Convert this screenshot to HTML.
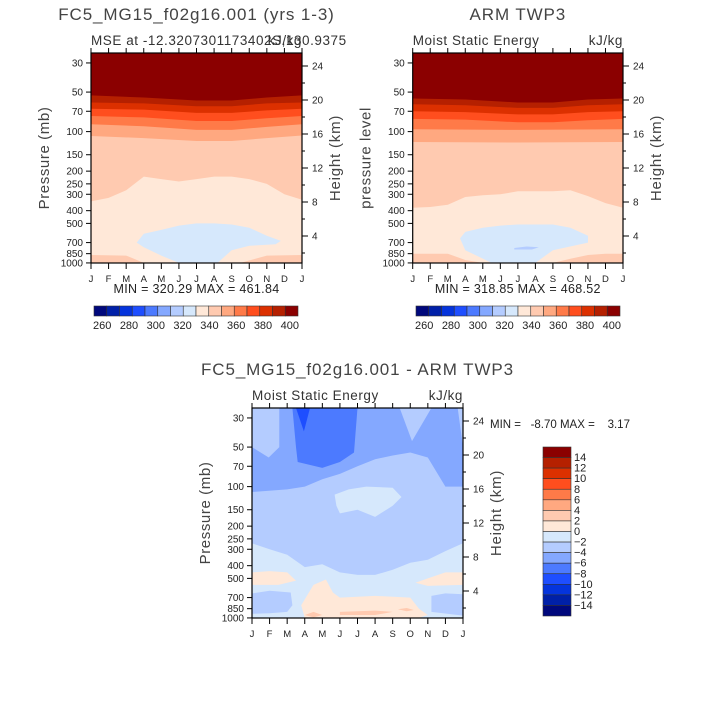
<!DOCTYPE html>
<html><head><meta charset="utf-8"><style>
html,body{margin:0;padding:0;background:#fff;width:720px;height:720px;overflow:hidden}
svg{font-family:"Liberation Sans",sans-serif}
</style></head><body>
<svg id="c" width="720" height="720" viewBox="0 0 720 720"></svg>
<script>
const months=["J","F","M","A","M","J","J","A","S","O","N","D","J"];
const pTicks=[30,50,70,100,150,200,250,300,400,500,700,850,1000];
const hTicks=[4,8,12,16,20,24];
const colors=["#00087c","#0020a8","#0534dc","#1e4eff","#4c7aff","#84a8ff","#b4ccff","#d6e8fc","#ffe8d8","#ffcab0","#ffa880","#ff7a48","#ff4e1e","#dc3000","#b52000","#8b0000"];
const absLabels=[260,280,300,320,340,360,380,400];
const diffLabels=[14,12,10,8,6,4,2,0,-2,-4,-6,-8,-10,-12,-14];
const modelBase=9;
const modelLayers=[
[10,[[0,25],[0,340],[1,320],[2,280],[3,220],[4,230],[5,240],[6,230],[7,220],[8,220],[9,230],[10,250],[11,300],[12,330],[12,25]]],
[11,[[0,25],[0,108],[3,112],[6,118],[8,118],[10,112],[12,107],[12,25]]],
[12,[[0,25],[0,88],[3,91],[6,97],[8,97],[10,92],[12,88],[12,25]]],
[13,[[0,25],[0,76],[3,78],[6,83],[8,83],[10,79],[12,76],[12,25]]],
[14,[[0,25],[0,67],[3,68],[6,72],[8,72],[10,69],[12,67],[12,25]]],
[15,[[0,25],[0,60],[3,61],[6,64],[8,64],[10,61],[12,60],[12,25]]],
[16,[[0,25],[0,53],[3,55],[6,58],[8,58],[10,55],[12,53],[12,25]]],
[10,[[0,870],[2,880],[3,1000],[0,1000]]],
[10,[[8.5,1000],[10,880],[12,870],[12,1000]]],
[8,[[2.6,700],[3,600],[4,560],[5,520],[6,500],[7,500],[8,510],[9,540],[10,620],[10.8,680],[10.5,720],[9,740],[8,800],[7.2,1000],[5,1000],[4,880],[3,760]]]
];
const obsBase=9;
const obsLayers=[
[10,[[0,25],[0,380],[1,375],[2,360],[3,315],[4,305],[5,300],[6,285],[8,285],[9,280],[10,310],[11,350],[12,380],[12,25]]],
[11,[[0,25],[0,120],[6,121],[12,120],[12,25]]],
[12,[[0,25],[0,96],[6,97],[12,96],[12,25]]],
[13,[[0,25],[0,80],[3,81],[6,85],[8,85],[10,82],[12,80],[12,25]]],
[14,[[0,25],[0,70],[3,71],[6,74],[8,74],[10,71],[12,70],[12,25]]],
[15,[[0,25],[0,62],[3,63],[6,66],[8,66],[10,63],[12,62],[12,25]]],
[16,[[0,25],[0,56],[3,57],[6,60],[8,60],[10,57],[12,56],[12,25]]],
[10,[[0,850],[2,850],[3,950],[4,1000],[0,1000]]],
[10,[[8,1000],[9,930],[10,870],[11,850],[12,850],[12,1000]]],
[8,[[2.7,650],[3,580],[4,540],[5,520],[6,510],[8,510],[9,540],[10,620],[10,700],[8,800],[7,1000],[4.5,1000],[3,800]]],
[7,[[5.8,770],[6.5,750],[7.2,760],[6.8,790],[5.8,790]]]
];
const diffBase=7;
const diffLayers=[
[6,[[0,25],[0,110],[2,105],[3,100],[4,88],[5,80],[6,70],[7,62],[8,58],[9,55],[10,60],[11,100],[12,100],[12,25]]],
[7,[[0,25],[1.55,25],[1.55,50],[0.95,60],[0,50]]],
[7,[[8.4,25],[10.2,25],[9.1,45]]],
[7,[[11.7,25],[12,25],[12,50]]],
[5,[[2.3,25],[6,25],[5.8,55],[5,65],[4,72],[2.6,65],[2.5,50]]],
[4,[[2.5,25],[3.3,25],[2.95,38]]],
[8,[[4.7,115],[5.5,105],[6.5,100],[8,102],[8.5,120],[8,140],[7,170],[6,150],[5,160],[4.8,140]]],
[8,[[0,270],[1,300],[2,330],[3,410],[4,390],[5,450],[6,470],[7,470],[8,430],[9,380],[10,360],[11,310],[12,270],[12,1000],[0,1000]]],
[7,[[0,650],[1,620],[2.2,640],[2.3,800],[2,900],[1,920],[0,930]]],
[7,[[10.2,680],[11,650],[12,660],[12,960],[10.2,900]]],
[9,[[0,450],[1,440],[2,450],[2.5,520],[1.5,560],[0,560]]],
[9,[[9.3,540],[10,500],[11,450],[12,450],[12,560],[10,570]]],
[9,[[3,1000],[2.8,800],[3.5,560],[4.2,510],[4.6,640],[5,700],[7,680],[9,700],[9.5,850],[10,950],[9.5,1000]]],
[10,[[3,950],[3.5,900],[4,950],[3.5,990]]],
[10,[[5,900],[7,880],[8,900],[7,950],[5,950]]],
[10,[[8.3,860],[8.8,840],[9.2,870],[8.8,890]]]
];

const NS="http://www.w3.org/2000/svg";
const svg=document.getElementById('c');
function el(tag,attrs,parent,text){const e=document.createElementNS(NS,tag);for(const k in attrs)e.setAttribute(k,attrs[k]);if(text!==undefined)e.textContent=text;(parent||svg).appendChild(e);return e;}
const LP0=Math.log10(25.2), LSPAN=1.523, PH=200;

function panel(name,left,top,w,base,layers,opts){
  const g=el('g',{},svg);
  
  
  const xM=m=>left+m*w/12;
  const yP=p=>top+(Math.log10(Math.max(p,25.2))-LP0)/LSPAN*PH;
  const yH=km=>top+217-km*8.5;
  const clipId=name+'-clip';
  const cp=el('clipPath',{id:clipId},g);el('rect',{x:left,y:top,width:w,height:210},cp);
  const fg=el('g',{'clip-path':'url(#'+clipId+')'},g);
  const bg=el('rect',{x:left,y:top,width:w,height:210,fill:colors[base-1]},fg);
  
  
  layers.forEach(L=>{
    const pts=L[1].map(q=>xM(q[0]).toFixed(1)+','+yP(q[1]).toFixed(1)).join(' ');
    const pg=el('polygon',{points:pts,fill:colors[L[0]-1]},fg);
    
    
  });
  el('rect',{x:left,y:top,width:w,height:210,fill:'none',stroke:'#000','stroke-width':1.2},g);
  months.forEach((m,i)=>{
    const x=xM(i);
    el('line',{x1:x,y1:top+210,x2:x,y2:top+216,stroke:'#000'},g);
    el('line',{x1:x,y1:top,x2:x,y2:top-5,stroke:'#000'},g);
    const t=el('text',{x:x,y:top+229,'font-size':9.5,'text-anchor':'middle',fill:'#222'},g,m);
    
    
  });
  pTicks.forEach(p=>{
    const y=yP(p);
    el('line',{x1:left,y1:y,x2:left-5,y2:y,stroke:'#000'},g);
    const t=el('text',{x:left-8,y:y+3.5,'font-size':10,'text-anchor':'end',fill:'#222'},g,String(p));
    
    
  });
  hTicks.forEach(h=>{
    const y=yH(h);
    el('line',{x1:left+w,y1:y,x2:left+w+6,y2:y,stroke:'#000'},g);
    const t=el('text',{x:left+w+10,y:y+3.5,'font-size':10,fill:'#222'},g,String(h));
    
    
  });
  for(let h=2;h<=24;h+=2){if(h%4){const y=yH(h);el('line',{x1:left+w,y1:y,x2:left+w+3,y2:y,stroke:'#000'},g);}}
  const yl=el('text',{transform:'translate('+(left-42)+','+(top+105)+') rotate(-90)','font-size':15,'letter-spacing':0.6,'text-anchor':'middle',fill:'#444'},g,opts.ylab);
  
  
  const yr=el('text',{transform:'translate('+(left+w+38)+','+(top+105)+') rotate(-90)','font-size':15,'letter-spacing':0.8,'text-anchor':'middle',fill:'#444'},g,'Height (km)');
  
  
  const tt=el('text',{x:left+w/2,y:top-33,'font-size':17,'letter-spacing':0.9,'text-anchor':'middle',fill:'#444'},g,opts.title);
  
  
  const st=el('text',{x:left,y:top-8,'font-size':13.5,'letter-spacing':0.55,fill:'#333'},g,opts.sub);
  
  
  const un=el('text',{x:left+w,y:top-8,'font-size':13.5,'letter-spacing':0.55,'text-anchor':'end',fill:'#333'},g,'kJ/kg');
  
  
  if(opts.minmax){
    const mm=el('text',{x:left+w/2,y:top+240,'font-size':12.5,'letter-spacing':0.3,'text-anchor':'middle',fill:'#222'},g,opts.minmax);
    
    
  }
  return g;
}
function hbar(name,x0,x1,y){
  const g=el('g',{},svg);
  
  
  const bw=(x1-x0)/16;
  colors.forEach((c,i)=>{el('rect',{x:x0+i*bw,y:y,width:bw,height:10,fill:c,stroke:'#333','stroke-width':0.6},g);});
  absLabels.forEach((v,i)=>{
    const t=el('text',{x:x0+bw*(1+2*i)+(i-3.5)*1.3,y:y+23,'font-size':11,'text-anchor':'middle',fill:'#222'},g,String(v));
    
    
  });
}
panel('model-panel',91,53,211,modelBase,modelLayers,{ylab:'Pressure (mb)',title:'FC5_MG15_f02g16.001 (yrs 1-3)',sub:'MSE at -12.3207301173402S,130.9375',minmax:'MIN = 320.29 MAX = 461.84'});
panel('obs-panel',412.7,53,210.3,obsBase,obsLayers,{ylab:'pressure level',title:'ARM TWP3',sub:'Moist Static Energy',minmax:'MIN = 318.85 MAX = 468.52'});
panel('diff-panel',252,408,211,diffBase,diffLayers,{ylab:'Pressure (mb)',title:'FC5_MG15_f02g16.001 - ARM TWP3',sub:'Moist Static Energy'});
hbar('model-colorbar',94,298,306);
hbar('obs-colorbar',416,620,306);
const dm=el('text',{x:490,y:428,'font-size':11.5,fill:'#222'},svg,'MIN =   -8.70 MAX =    3.17');


dm.style.whiteSpace='pre';
const vg=el('g',{},svg);


const vbh=(616-447)/16;
colors.slice().reverse().forEach((c,i)=>{el('rect',{x:543,y:447+i*vbh,width:28,height:vbh,fill:c,stroke:'#333','stroke-width':0.6},vg);});
diffLabels.forEach((v,i)=>{
  const t=el('text',{x:574,y:447+vbh*(i+1)+3.5,'font-size':11,fill:'#222'},vg,String(v).replace('-','\u2212'));
  
  
});
</script>
</body></html>
